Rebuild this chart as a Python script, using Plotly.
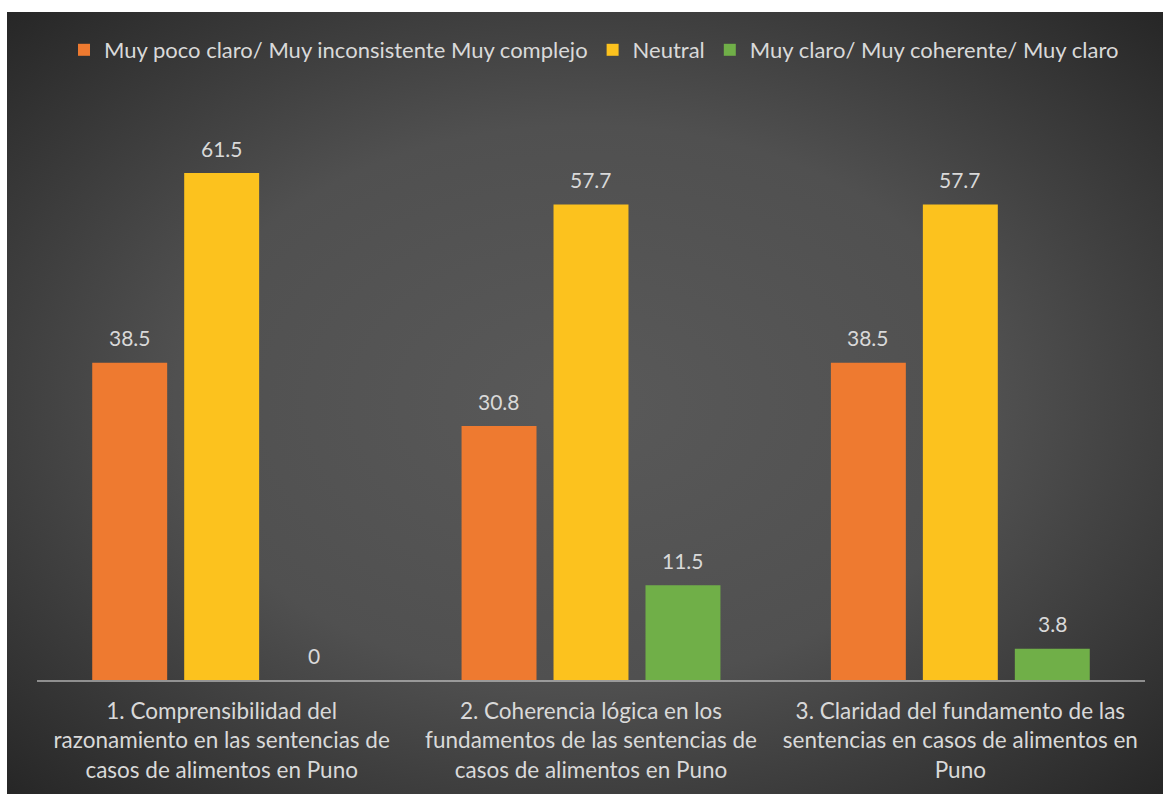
import base64
import plotly.graph_objects as go

# ---- data ----
categories = [
    "1. Comprensibilidad del<br>razonamiento en las sentencias de<br>casos de alimentos en Puno",
    "2. Coherencia lógica en los<br>fundamentos de las sentencias de<br>casos de alimentos en Puno",
    "3. Claridad del fundamento de las<br>sentencias en casos de alimentos en<br>Puno",
]
series_names = [
    "Muy poco claro/ Muy inconsistente Muy complejo",
    "Neutral",
    "Muy claro/ Muy coherente/ Muy claro",
]
poco_claro = [38.5, 30.8, 38.5]
neutral = [61.5, 57.7, 57.7]
muy_claro = [0, 11.5, 3.8]
series_values = [poco_claro, neutral, muy_claro]
colors = ["#ee7a30", "#fcc21e", "#70af48"]

# ---- geometry / style ----
W, H = 1163, 794
ML, MR, MT, MB = 37, 18, 103, 114
BARGAP, GROUPGAP = 0.253, 0.185
FONT = "Lato"
TXT = "#d9d9d9"

xpos = list(range(len(categories)))
n = len(series_values)
slot = (1 - BARGAP) / n

fig = go.Figure()
for name, vals, col in zip(series_names, series_values, colors):
    fig.add_trace(go.Bar(
        name=name, x=xpos, y=vals,
        marker=dict(color=col, line=dict(width=0)),
    ))

# data labels
for i, vals in enumerate(series_values):
    for j, v in enumerate(vals):
        fig.add_annotation(
            x=j + (i - (n - 1) / 2) * slot, y=v, xref="x", yref="y",
            text=f"{v:g}", showarrow=False, yanchor="middle", yshift=25,
            font=dict(family=FONT, size=21, color=TXT),
        )

# background radial gradient
svg = (
    '<svg xmlns="http://www.w3.org/2000/svg" width="1156" height="782" '
    'preserveAspectRatio="none" viewBox="0 0 1156 782">'
    '<defs><radialGradient id="g" cx="50%" cy="50%" r="71%">'
    '<stop offset="0" stop-color="#595959"/>'
    '<stop offset="0.5" stop-color="#505050"/>'
    '<stop offset="1" stop-color="#262626"/>'
    '</radialGradient></defs>'
    '<rect width="1156" height="782" fill="url(#g)"/></svg>'
)
src = "data:image/svg+xml;base64," + base64.b64encode(svg.encode()).decode()
pw = W - ML - MR
ph = H - MT - MB
fig.add_layout_image(
    source=src, xref="paper", yref="paper",
    x=(7 - ML) / pw, y=(H - MB - 12) / ph,
    sizex=(W - 7) / pw, sizey=(H - 12) / ph,
    xanchor="left", yanchor="top", sizing="stretch", layer="below",
)

fig.update_layout(
    width=W, height=H,
    margin=dict(l=ML, r=MR, t=MT, b=MB, pad=0, autoexpand=False),
    paper_bgcolor="white",
    plot_bgcolor="rgba(0,0,0,0)",
    barmode="group", bargap=BARGAP, bargroupgap=GROUPGAP,
    font=dict(family=FONT, size=22.5, color=TXT),
    showlegend=True,
    legend=dict(
        orientation="h", x=(594 - ML) / pw, xanchor="center",
        y=(H - MB - 50) / ph, yanchor="middle",
        bgcolor="rgba(0,0,0,0)", font=dict(family=FONT, size=22, color=TXT),
        itemwidth=30, traceorder="normal",
    ),
    xaxis=dict(
        range=[-0.5, len(categories) - 0.5],
        tickvals=xpos, ticktext=categories,
        showline=True, linecolor="rgba(217,217,217,0.55)", linewidth=2,
        showgrid=False, zeroline=False, ticks="",
        ticklabelstandoff=10, automargin=False,
        tickfont=dict(family=FONT, size=22.5, color=TXT),
        fixedrange=True,
    ),
    yaxis=dict(
        range=[0, 70], showgrid=False, zeroline=False, automargin=False,
        showticklabels=False, showline=False, ticks="", fixedrange=True,
    ),
)

fig.write_html("out.html", config={"displayModeBar": False},
               post_script="document.body.style.margin='0';")
